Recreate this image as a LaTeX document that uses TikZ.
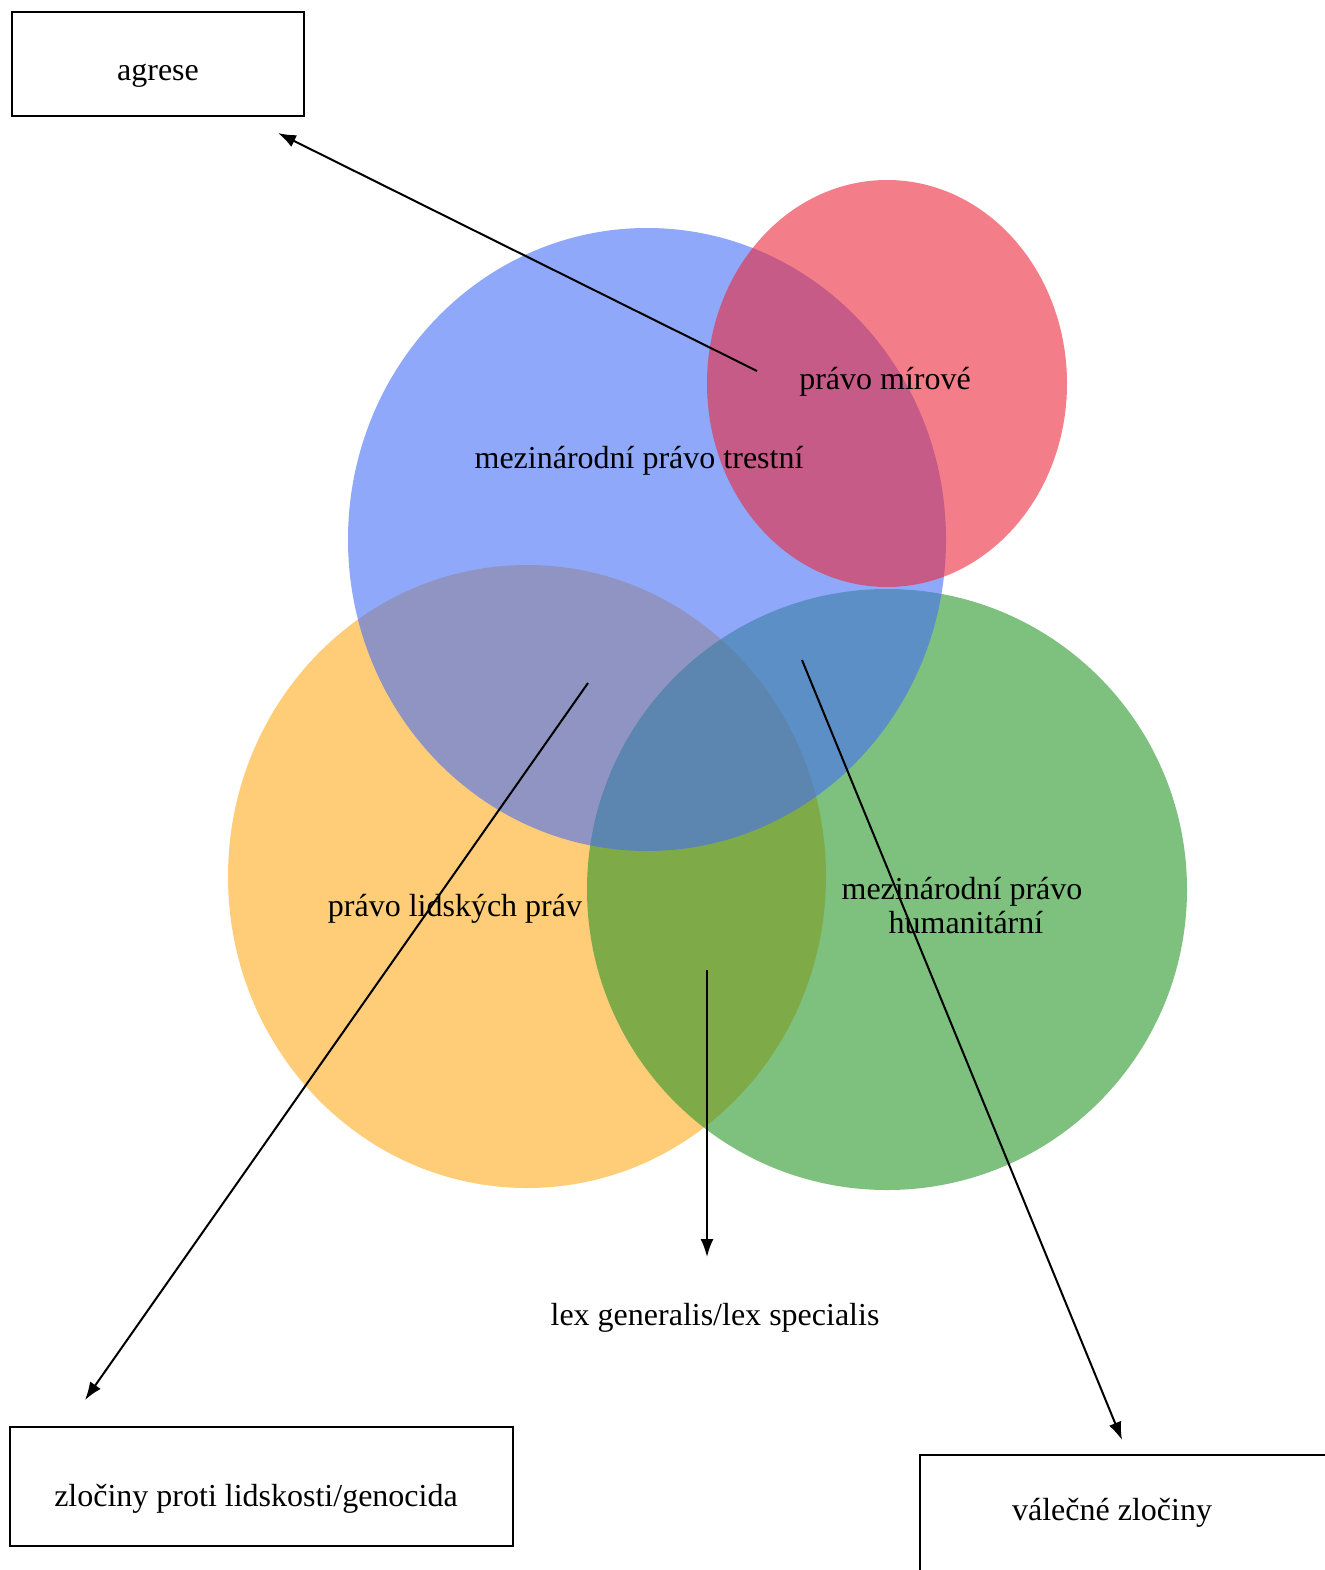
\documentclass[tikz,border=0pt]{standalone}
\usepackage{fontspec}
\setmainfont{Liberation Serif}
\usetikzlibrary{arrows.meta}
\definecolor{cblue}{RGB}{70,110,245}
\definecolor{cred}{RGB}{235,40,60}
\definecolor{corange}{RGB}{255,170,30}
\definecolor{cgreen}{RGB}{40,150,40}
\begin{document}
\begin{tikzpicture}[x=1pt,y=-1pt,
  lbl/.style={font=\fontsize{32}{36}\selectfont, inner sep=0pt, align=center},
  boxframe/.style={draw=black, line width=2pt, inner sep=0pt},
  conn/.style={line width=2pt, -{Latex[length=18pt,width=13pt]}},
  blob/.style={fill opacity=0.6}]
\useasboundingbox (0,0) rectangle (1324,1570);
% circles
\fill[corange,blob] (527,876.5) ellipse [x radius=299, y radius=311.5];
\fill[cgreen,blob] (887,889.5) ellipse [x radius=300, y radius=300.5];
\fill[cblue,blob] (647,539.5) ellipse [x radius=299, y radius=311.5];
\fill[cred,blob] (887,383.5) ellipse [x radius=180, y radius=203.5];
% boxes
\node[boxframe, minimum width=292pt, minimum height=104pt] (agbox) at (158,64) {};
\node[boxframe, minimum width=503pt, minimum height=119pt] (zlbox) at (261.5,1486.5) {};
\draw[line width=2pt] (920,1590) -- (920,1455) -- (1340,1455);
% texts
\node[lbl] (agrese) at (158,76) {agrese};
\node[lbl] (mirove) at (885,382) {právo mírové};
\node[lbl] (trestni) at (639,461) {mezinárodní právo trestní};
\node[lbl] (lidska) at (455,909) {právo lidských práv};
\node[lbl, align=left] (humanit) at (962,906) {mezinárodní právo\\[-2pt]\hspace*{47pt}humanitární};
\node[lbl] (lex) at (715,1318) {lex generalis/lex specialis};
\node[lbl] (zlociny) at (256,1499) {zločiny proti lidskosti/genocida};
\node[lbl] (valecne) at (1112,1513) {válečné zločiny};
% connector coordinates
\coordinate (s1) at (757,371);
\coordinate (e1) at (278,133);
\coordinate (s2) at (588,683);
\coordinate (e2) at (85,1400);
\coordinate (s3) at (707,970);
\coordinate (e3) at (707,1257);
\coordinate (s4) at (802,660);
\coordinate (e4) at (1122,1440);
\draw[conn] (s1) -- (e1);
\draw[conn] (s2) -- (e2);
\draw[conn] (s3) -- (e3);
\draw[conn] (s4) -- (e4);
\end{tikzpicture}
\end{document}
